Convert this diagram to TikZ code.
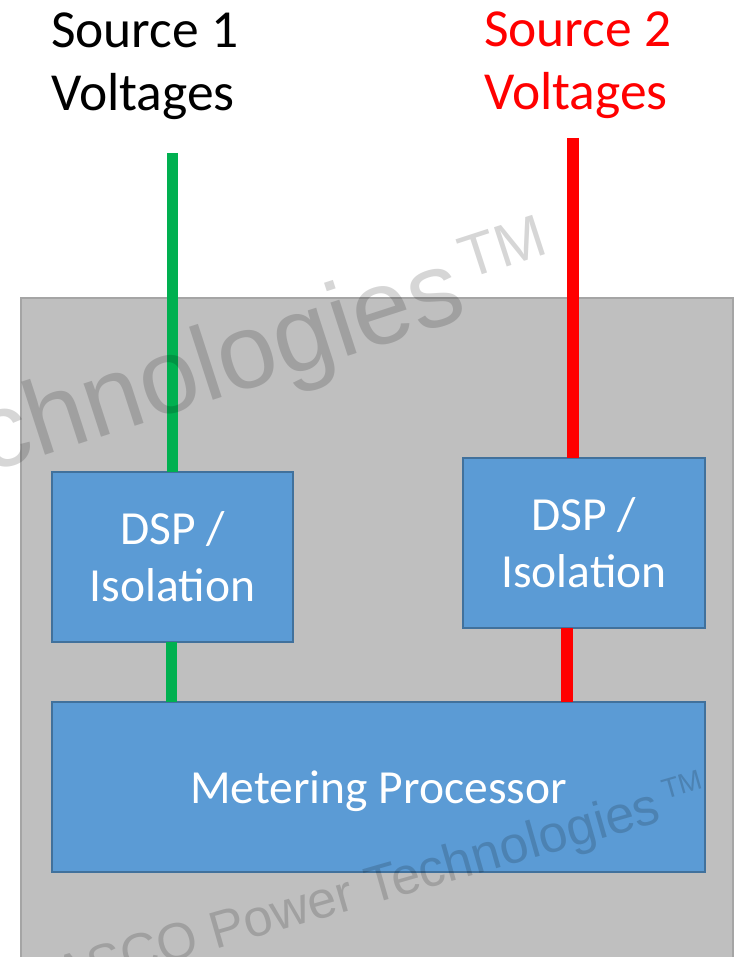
\documentclass[tikz,border=0pt]{standalone}
\usepackage{fontspec}
\setmainfont{Carlito}
\newfontfamily\wmfont{Liberation Sans}
\usetikzlibrary{calc}
\definecolor{panelfill}{HTML}{BFBFBF}
\definecolor{panelline}{HTML}{A5A5A5}
\definecolor{blockfill}{HTML}{5B9BD5}
\definecolor{blockline}{HTML}{41719C}
\definecolor{srcgreen}{HTML}{00B050}
\definecolor{srcred}{HTML}{FF0000}
\begin{document}
\begin{tikzpicture}[x=1pt,y=-1pt,
  panel/.style={draw=panelline, line width=2pt, fill=panelfill, inner sep=0pt, outer sep=0pt, anchor=north west},
  blk/.style={draw=blockline, line width=2pt, fill=blockfill, text=white, inner sep=0pt, outer sep=0pt,
    anchor=north west, align=center, font=\fontsize{47.5}{57}\selectfont},
  srclabel/.style={inner sep=0pt, outer sep=0pt, anchor=north west, align=left, font=\fontsize{53.5}{63}\selectfont},
  gline/.style={draw=srcgreen, line width=11pt},
  rline/.style={draw=srcred, line width=12pt},
  wm/.style={text=black, opacity=0.16, inner sep=0pt, outer sep=0pt}]
\useasboundingbox (0,0) rectangle (737,957);
\clip (0,0) rectangle (737,957);

% outer panel
\node[panel, minimum width=712pt, minimum height=690pt] (panel) at (21,298) {};

% source labels
\node[srclabel] (src1) at (51,13) {Source 1\\Voltages};
\node[srclabel, text=srcred] (src2) at (484,12) {Source 2\\Voltages};

\coordinate (g1) at (172,153);
\coordinate (g2) at (171,0);
\coordinate (r1) at (573,138);
\coordinate (r2) at (567,0);

% blocks
\path (52,472) node[blk, minimum width=241pt, minimum height=170pt] (dsp1) {DSP /\\Isolation};
\path (463,458) node[blk, minimum width=242pt, minimum height=170pt] (dsp2) {DSP /\\Isolation};
\path (52,702) node[blk, minimum width=653pt, minimum height=170pt, text depth=0pt] (meter) {Metering Processor};

% connectors
\draw[gline] (g1) -- (g1 |- dsp1.north);
\draw[gline] (g2 |- dsp1.south) -- (g2 |- meter.north);
\draw[rline] (r1) -- (r1 |- dsp2.north);
\draw[rline] (r2 |- dsp2.south) -- (r2 |- meter.north);

% watermarks
\node[wm, rotate=18, font=\wmfont\fontsize{106}{106}\selectfont, anchor=base east] (wm1) at (470,317) {ASCO Power Technologies};
\node[wm, rotate=18, font=\wmfont\fontsize{60}{60}\selectfont, anchor=base west] (wm1tm) at (wm1.base east) {\hspace{9pt}\raisebox{36pt}{TM}};
\node[wm, rotate=16, font=\wmfont\fontsize{52}{52}\selectfont, anchor=base east] (wm2) at (663,821) {ASCO Power Technologies};
\node[wm, rotate=16, font=\wmfont\fontsize{28}{28}\selectfont, anchor=base west] (wm2tm) at (wm2.base east) {\hspace{8pt}\raisebox{20pt}{TM}};
\end{tikzpicture}
\end{document}
